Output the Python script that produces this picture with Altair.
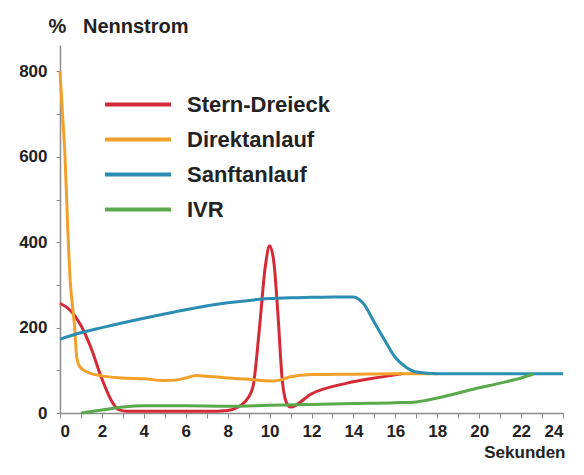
import altair as alt
import pandas as pd

# ---- data ----
series_order = ["Stern-Dreieck", "Direktanlauf", "Sanftanlauf", "IVR"]
series_colors = ["#d42a36", "#f2a02a", "#2b8db2", "#5aa94c"]

stern_x = [0, 0.5, 1, 1.5, 2, 2.5, 2.8, 3.2, 5, 7, 8, 8.5, 8.8, 9.2, 9.5, 9.8, 10, 10.2, 10.4, 10.6, 10.8, 11, 12, 13.7, 15.3, 16.3]
stern_y = [257, 240, 205, 150, 80, 25, 8, 4, 4, 4, 6, 14, 25, 60, 190, 345, 392, 355, 230, 80, 25, 14, 45, 70, 84, 92]

direkt_x = [0, 0.12, 0.24, 0.38, 0.5, 0.6, 0.7, 0.8, 0.95, 1.3, 2, 3, 4, 5, 5.5, 6, 6.5, 7, 8, 9, 10, 10.5, 11, 12, 14, 16, 18]
direkt_y = [800, 700, 600, 420, 300, 250, 200, 130, 108, 96, 87, 82, 80, 76, 77, 82, 88, 86, 82, 79, 75, 77, 85, 90, 91, 92, 92]

sanft_x = [0, 1, 2, 4, 6, 8, 10, 11, 12, 13, 14, 14.5, 15, 15.5, 16, 16.5, 17, 18, 19, 20, 22, 24]
sanft_y = [173, 188, 200, 222, 242, 258, 268, 270, 271, 272, 272, 255, 212, 170, 130, 108, 96, 92, 92, 92, 92, 92]

ivr_x = [1, 2, 3, 4, 6, 8, 10, 12, 14, 16, 17, 17.5, 18, 19, 20, 21, 22, 22.6]
ivr_y = [0, 7, 14, 17, 17, 16, 18, 20, 22, 24, 26, 30, 35, 47, 59, 70, 82, 92]

x_ticks = list(range(0, 25))
y_ticks = [0, 100, 200, 300, 400, 500, 600, 700, 800]

frames = []
for name, xs, ys in [
    ("Stern-Dreieck", stern_x, stern_y),
    ("Direktanlauf", direkt_x, direkt_y),
    ("Sanftanlauf", sanft_x, sanft_y),
    ("IVR", ivr_x, ivr_y),
]:
    frames.append(pd.DataFrame({"t": xs, "v": ys, "serie": name}))
df = pd.concat(frames, ignore_index=True)

font = "Liberation Sans"

chart = alt.Chart(df).mark_line(strokeWidth=3, interpolate="monotone").encode(
    x=alt.X("t:Q",
            scale=alt.Scale(domain=[0, 24], nice=False, zero=False),
            axis=alt.Axis(values=x_ticks,
                          labelExpr="datum.value % 2 == 0 ? datum.label : ''",
                          title="Sekunden", titleAnchor="end", titleAlign="right",
                          titleX=505, titleY=44, titleBaseline="alphabetic",
                          titleFontSize=17, titleFontWeight="bold", titleColor="#222",
                          labelFontSize=17, labelFontWeight="bold", labelColor="#222",
                          labelPadding=5, tickSize=5, tickColor="#8a8a8a",
                          domainColor="#8a8a8a", domainWidth=1.5, grid=False)),
    y=alt.Y("v:Q",
            scale=alt.Scale(domain=[0, 862], nice=False),
            axis=alt.Axis(values=y_ticks,
                          labelExpr="datum.value % 200 == 0 ? datum.label : ''",
                          title="%\u00a0\u00a0\u00a0Nennstrom", titleAngle=0, titleAlign="left",
                          titleX=-12, titleY=-13, titleBaseline="alphabetic",
                          titleFontSize=20, titleFontWeight="bold", titleColor="#222",
                          labelFontSize=17, labelFontWeight="bold", labelColor="#222",
                          labelPadding=9, tickSize=4, tickColor="#8a8a8a",
                          domainColor="#8a8a8a", domainWidth=1.5, grid=False)),
    color=alt.Color("serie:N",
                    scale=alt.Scale(domain=series_order, range=series_colors),
                    legend=alt.Legend(title=None, orient="none", legendX=43, legendY=42,
                                      symbolType="stroke", symbolSize=4356,
                                      symbolStrokeWidth=4, clipHeight=35,
                                      rowPadding=0, padding=0, labelOffset=14,
                                      labelFontSize=22, labelFontWeight="bold",
                                      labelColor="#222", labelFont=font,
                                      labelLimit=300)),
    detail="serie:N",
    order="t:Q",
).properties(
    width=503,
    height=368,
    autosize=alt.AutoSizeParams(type="none"),
    padding={"left": 52, "top": 37, "right": 12, "bottom": 50},
).configure(
    font=font,
).configure_view(
    stroke=None,
).configure_axis(
    labelFont=font, titleFont=font,
)

chart.save("out.html", embed_options={"renderer": "svg", "actions": False})
